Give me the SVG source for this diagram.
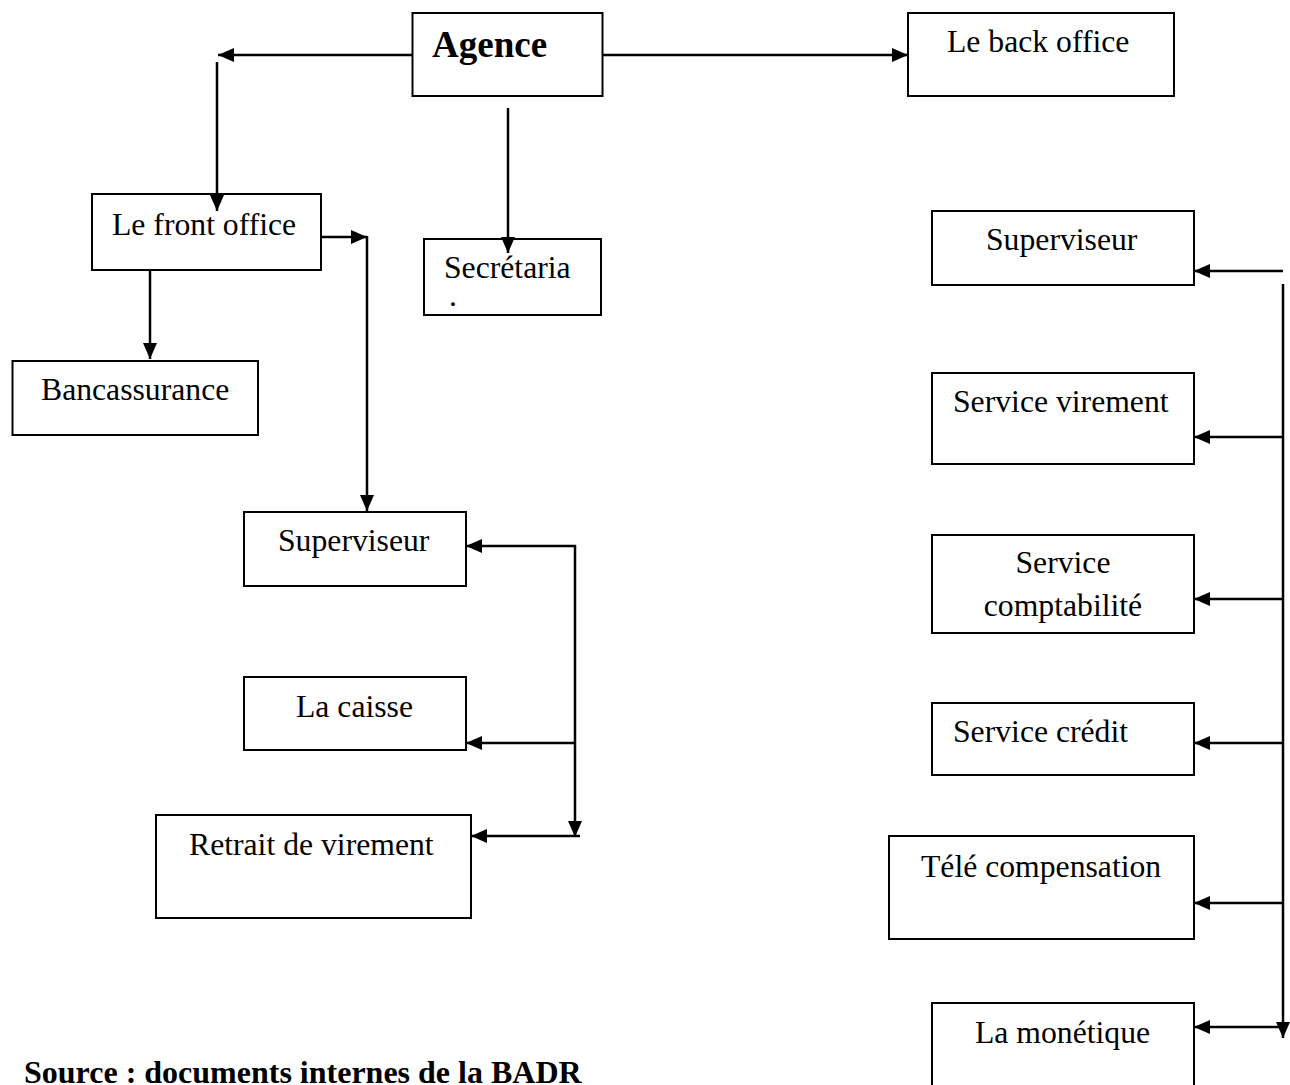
<svg xmlns="http://www.w3.org/2000/svg" width="1290" height="1085" viewBox="0 0 1290 1085">
<style>
.box{fill:#fff;stroke:#000;stroke-width:2}
.t{font-family:"Liberation Serif","Times New Roman",serif;font-size:31.7px;fill:#000}
.b{font-family:"Liberation Serif","Times New Roman",serif;font-weight:bold;fill:#000}
.c{stroke:#000;stroke-width:2.5;fill:none;marker-end:url(#ah)}
</style>
<defs>
<marker id="ah" markerUnits="userSpaceOnUse" markerWidth="17" markerHeight="15" refX="16" refY="7" orient="auto">
<path d="M0,0 L16,7 L0,14 Z" fill="#000"/>
</marker>
</defs>
<rect width="1290" height="1085" fill="#fff"/>
<g id="agence"><rect class="box" x="412.5" y="13" width="190" height="83"/><text class="b" x="432" y="57" font-size="37">Agence</text></g>
<g id="back-office"><rect class="box" x="908" y="13" width="266" height="83"/><text class="t" x="947" y="52">Le back office</text></g>
<g id="front-office"><rect class="box" x="92" y="194" width="229" height="76"/><text class="t" x="112" y="235">Le front office</text></g>
<g id="secretaria"><rect class="box" x="424" y="239" width="177" height="76"/><text class="t" x="444" y="278">Secrétaria</text><text class="t" x="449" y="306" font-size="5">.</text></g>
<g id="bancassurance"><rect class="box" x="12.5" y="361" width="245.5" height="74"/><text class="t" x="41" y="400">Bancassurance</text></g>
<g id="superviseur-front"><rect class="box" x="244" y="512" width="222" height="74"/><text class="t" x="278" y="551">Superviseur</text></g>
<g id="caisse"><rect class="box" x="244" y="677" width="222" height="73"/><text class="t" x="296" y="717">La caisse</text></g>
<g id="retrait"><rect class="box" x="156" y="815" width="315" height="103"/><text class="t" x="189" y="855">Retrait de virement</text></g>
<g id="superviseur-back"><rect class="box" x="932" y="211" width="262" height="74"/><text class="t" x="986" y="250">Superviseur</text></g>
<g id="service-virement"><rect class="box" x="932" y="373" width="262" height="91"/><text class="t" x="953" y="412">Service virement</text></g>
<g id="service-comptabilite"><rect class="box" x="932" y="535" width="262" height="98"/><text class="t" x="1063" y="573" text-anchor="middle">Service</text><text class="t" x="1063" y="616" text-anchor="middle">comptabilité</text></g>
<g id="service-credit"><rect class="box" x="932" y="703" width="262" height="72"/><text class="t" x="953" y="742">Service crédit</text></g>
<g id="tele-compensation"><rect class="box" x="889" y="836" width="305" height="103"/><text class="t" x="921" y="877">Télé compensation</text></g>
<g id="monetique"><rect class="box" x="932" y="1003" width="262" height="100"/><text class="t" x="975" y="1043">La monétique</text></g>
<g id="source"><text class="b" x="24" y="1083" font-size="32">Source : documents internes de la BADR</text></g>
<g id="connectors">
<line class="c" x1="412" y1="55" x2="218" y2="55"/>
<line class="c" x1="217" y1="62" x2="217" y2="211"/>
<line class="c" x1="603" y1="55" x2="908" y2="55"/>
<line class="c" x1="508" y1="108" x2="508" y2="253"/>
<line class="c" x1="321" y1="237" x2="367" y2="237"/>
<line class="c" x1="367" y1="236" x2="367" y2="511"/>
<line class="c" x1="150" y1="270" x2="150" y2="359"/>
<line class="c" x1="576" y1="546" x2="466" y2="546"/>
<line class="c" x1="575" y1="545" x2="575" y2="837"/>
<line class="c" x1="575" y1="743" x2="466" y2="743"/>
<line class="c" x1="580" y1="836" x2="471" y2="836"/>
<line class="c" x1="1283" y1="271" x2="1194" y2="271"/>
<line class="c" x1="1283" y1="284" x2="1283" y2="1038"/>
<line class="c" x1="1283" y1="437" x2="1194" y2="437"/>
<line class="c" x1="1283" y1="599" x2="1194" y2="599"/>
<line class="c" x1="1283" y1="743" x2="1194" y2="743"/>
<line class="c" x1="1283" y1="903" x2="1194" y2="903"/>
<line class="c" x1="1283" y1="1027" x2="1194" y2="1027"/>
</g>
</svg>
